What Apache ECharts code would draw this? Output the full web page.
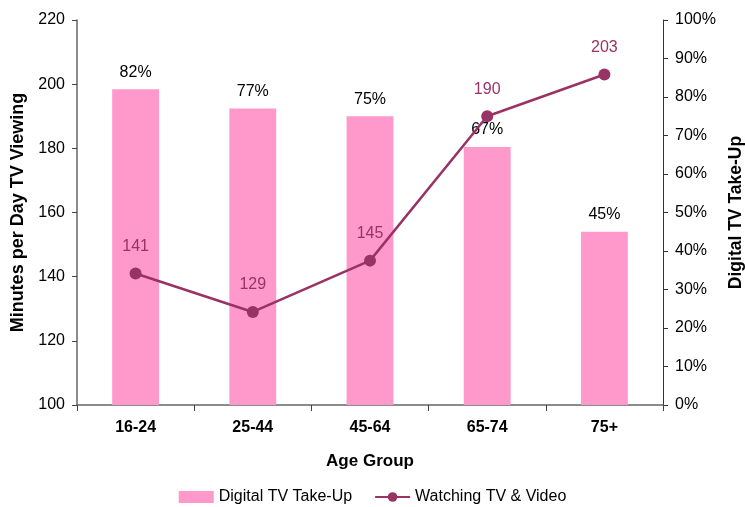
<!DOCTYPE html>
<html>
<head>
<meta charset="utf-8">
<script src="https://cdn.jsdelivr.net/npm/echarts@6/dist/echarts.min.js"></script>
<style>
html, body { margin: 0; padding: 0; background: #fff; }
#main { width: 745px; height: 507px; }
</style>
</head>
<body>
<div id="main"></div>
<script>
var ageGroups = ['16-24', '25-44', '45-64', '65-74', '75+'];
var takeUp = [82, 77, 75, 67, 45];
var watching = [141, 129, 145, 190, 203];

var font = 'Liberation Sans, Arial, sans-serif';

var option = {
	animation: false,
	textStyle: { fontFamily: font },
	grid: {
		left: 77,
		right: 82,
		top: 20,
		bottom: 102,
		containLabel: false,
		outerBoundsMode: 'none'
	},
	legend: {
		bottom: -3,
		left: 'center',
		itemGap: 22,
		textStyle: { fontSize: 16, color: '#000', fontFamily: font },
		data: [
			{ name: 'Digital TV Take-Up', icon: 'rect', itemStyle: { color: '#FF99CC' } },
			{ name: 'Watching TV & Video' }
		],
		itemWidth: 35,
		itemHeight: 12
	},
	xAxis: {
		type: 'category',
		data: ageGroups,
		name: 'Age Group',
		nameLocation: 'middle',
		nameGap: 48,
		nameTextStyle: { fontSize: 17, fontWeight: 'bold', color: '#000' },
		axisLine: { lineStyle: { color: '#666', width: 1.5 } },
		axisTick: { show: true, alignWithLabel: false, length: 6, lineStyle: { color: '#444' } },
		axisLabel: { fontSize: 16, fontWeight: 'bold', color: '#000', margin: 15 }
	},
	yAxis: [
		{
			type: 'value',
			min: 100,
			max: 220,
			interval: 20,
			name: 'Minutes per Day TV Viewing',
			nameLocation: 'middle',
			nameGap: 49,
			nameTextStyle: { fontSize: 18, fontWeight: 'bold', color: '#000' },
			axisLine: { show: true, lineStyle: { color: '#666', width: 1.5 } },
			axisTick: { show: true, length: 5, lineStyle: { color: '#444' } },
			axisLabel: { fontSize: 16, color: '#000', margin: 12 },
			splitLine: { show: false }
		},
		{
			type: 'value',
			min: 0,
			max: 100,
			interval: 10,
			name: 'Digital TV Take-Up',
			nameLocation: 'middle',
			nameGap: 64,
			nameRotate: 90,
			nameTextStyle: { fontSize: 17.5, fontWeight: 'bold', color: '#000' },
			axisLine: { show: true, lineStyle: { color: '#333', width: 1 } },
			axisTick: { show: true, length: 5, lineStyle: { color: '#333' } },
			axisLabel: { fontSize: 16, color: '#000', margin: 12, formatter: '{value}%' },
			splitLine: { show: false }
		}
	],
	series: [
		{
			name: 'Digital TV Take-Up',
			type: 'bar',
			yAxisIndex: 1,
			data: takeUp,
			barWidth: '40%',
			itemStyle: { color: '#FF99CC' },
			label: {
				show: true,
				position: 'top',
				distance: 9,
				formatter: '{c}%',
				fontSize: 16,
				color: '#000'
			}
		},
		{
			name: 'Watching TV & Video',
			type: 'line',
			yAxisIndex: 0,
			data: watching,
			symbol: 'circle',
			symbolSize: 12,
			lineStyle: { color: '#993366', width: 2.5 },
			itemStyle: { color: '#993366' },
			label: {
				show: true,
				position: 'top',
				distance: 13,
				fontSize: 16,
				color: '#993366'
			}
		}
	]
};

var myChart = echarts.init(document.getElementById('main'));
myChart.setOption(option);
</script>
</body>
</html>
